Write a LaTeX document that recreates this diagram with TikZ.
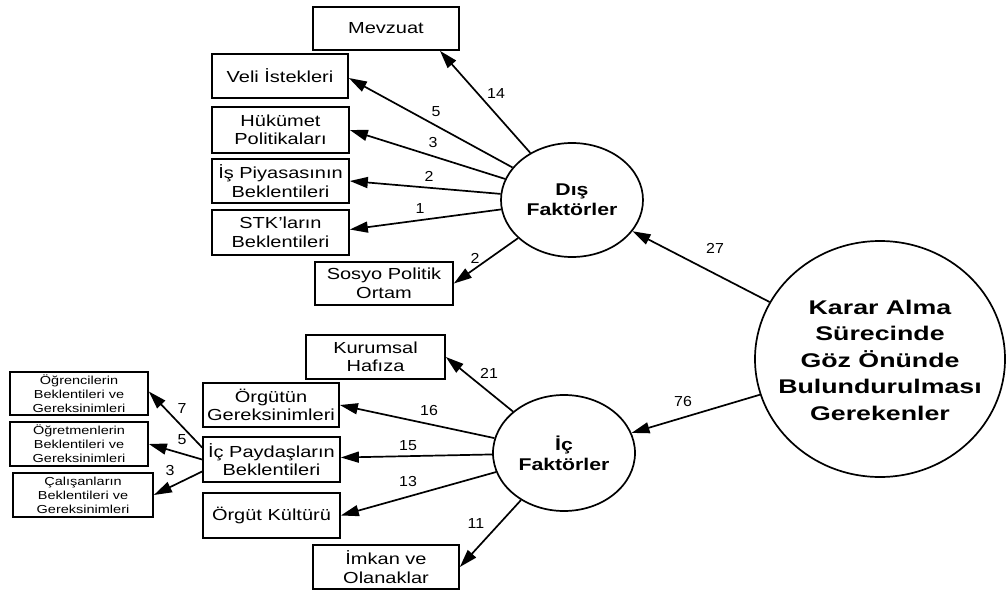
\documentclass[tikz,border=0pt]{standalone}
\usepackage{fontspec}
\setmainfont{Liberation Sans}[FakeStretch=1.25,BoldFont={Liberation Sans Bold},BoldFeatures={FakeStretch=1.25}]
\newfontfamily\bigfont{Liberation Sans Bold}[FakeStretch=1.35]
\newfontfamily\labfont{Liberation Sans}[FakeStretch=1.1]
\usetikzlibrary{shapes.geometric,arrows.meta}
\begin{document}
\begin{tikzpicture}[x=1pt,y=-1pt,
 box/.style={draw,line width=1.7pt,rectangle,inner sep=0pt,align=center,font=\fontsize{16}{18.5}\selectfont},
 sbox/.style={box,font=\fontsize{11.6}{14}\selectfont},
 lat/.style={draw,line width=1.7pt,ellipse,inner sep=0pt,align=center,font=\bfseries\fontsize{17}{20}\selectfont},
 bigtxt/.style={inner sep=0pt,align=center,font=\bigfont\fontsize{19.8}{26.5}\selectfont},
 arr/.style={line width=1.7pt,-{Triangle[length=18pt,width=11pt]}},
 lab/.style={font=\labfont\fontsize{14.5}{16}\selectfont,inner sep=0pt}]
\useasboundingbox (0,0) rectangle (1007,594);
% latent variables
\node[lat,minimum width=142pt,minimum height=114pt] (dis) at (572,200) {Dış\\Faktörler};
\node[lat,minimum width=142pt,minimum height=116pt] (ic) at (564,453) {İç\\Faktörler};
\node[lat,minimum width=250pt,minimum height=236pt] (big) at (880,359) {};
\node[bigtxt] (bigt) at (880,360) {Karar Alma\\Sürecinde\\Göz Önünde\\Bulundurulması\\Gerekenler};
% external boxes
\node[box,minimum width=146pt,minimum height=43pt] (mev) at (386,28.5) {Mevzuat};
\node[box,minimum width=136pt,minimum height=44pt] (veli) at (280,76) {Veli İstekleri};
\node[box,minimum width=137pt,minimum height=46pt] (huk) at (280.5,130) {Hükümet\\Politikaları};
\node[box,minimum width=137pt,minimum height=44pt] (isp) at (280.5,181) {İş Piyasasının\\Beklentileri};
\node[box,minimum width=137pt,minimum height=45pt] (stk) at (280.5,232.5) {STK'ların\\Beklentileri};
\node[box,minimum width=138pt,minimum height=43pt] (sos) at (384,283.5) {Sosyo Politik\\Ortam};
% internal boxes
\node[box,minimum width=139pt,minimum height=44pt] (kur) at (375.5,357) {Kurumsal\\Hafıza};
\node[box,minimum width=136pt,minimum height=44pt] (org) at (271,405) {Örgütün\\Gereksinimleri};
\node[box,minimum width=137pt,minimum height=45pt] (icp) at (271.5,459.5) {İç Paydaşların\\Beklentileri};
\node[box,minimum width=137pt,minimum height=45pt] (kul) at (271.5,515.5) {Örgüt Kültürü};
\node[box,minimum width=146pt,minimum height=44pt] (imk) at (386,567) {İmkan ve\\Olanaklar};
% small boxes
\node[sbox,minimum width=138pt,minimum height=43pt] (ogr) at (79,393.5) {Öğrencilerin\\Beklentileri ve\\Gereksinimleri};
\node[sbox,minimum width=138pt,minimum height=44pt] (ogt) at (79,444) {Öğretmenlerin\\Beklentileri ve\\Gereksinimleri};
\node[sbox,minimum width=140pt,minimum height=44pt] (cal) at (83,495) {Çalışanların\\Beklentileri ve\\Gereksinimleri};
% arrows
\draw[arr] (big) -- (dis);
\draw[arr] (big) -- (ic);
\draw[arr] (dis) -- ([xshift=54pt]mev.south);
\draw[arr] (dis) -- ([yshift=-2pt]veli.east);
\draw[arr] (dis) -- (huk.east);
\draw[arr] (dis) -- (isp.east);
\draw[arr] (dis) -- ([yshift=3pt]stk.east);
\draw[arr] (dis) -- (sos.east);
\draw[arr] (ic) -- (kur.east);
\draw[arr] (ic) -- (org.east);
\draw[arr] (ic) -- ([yshift=2pt]icp.east);
\draw[arr] (ic) -- (kul.east);
\draw[arr] (ic) -- (imk.east);
\coordinate (s1) at ([yshift=12pt]icp.west);
\coordinate (s2) at (icp.west);
\coordinate (s3) at ([yshift=-12pt]icp.west);
\draw[arr] (s1) -- ([yshift=2pt]ogr.east);
\draw[arr] (s2) -- (ogt.east);
\draw[arr] (s3) -- (cal.east);
% labels
\node[lab] (l14) at (496,94) {14};
\node[lab] (l5) at (436,112) {5};
\node[lab] (l3) at (433,143) {3};
\node[lab] (l2a) at (429,176) {2};
\node[lab] (l1) at (420,209) {1};
\node[lab] (l2b) at (475,258) {2};
\node[lab] (l27) at (715,248) {27};
\node[lab] (l76) at (683,402) {76};
\node[lab] (l21) at (489,373) {21};
\node[lab] (l16) at (429,411) {16};
\node[lab] (l15) at (408,446) {15};
\node[lab] (l13) at (408,482) {13};
\node[lab] (l11) at (476,524) {11};
\node[lab] (l7) at (182,409) {7};
\node[lab] (l5s) at (182,440) {5};
\node[lab] (l3s) at (170,471) {3};
\end{tikzpicture}
\end{document}
